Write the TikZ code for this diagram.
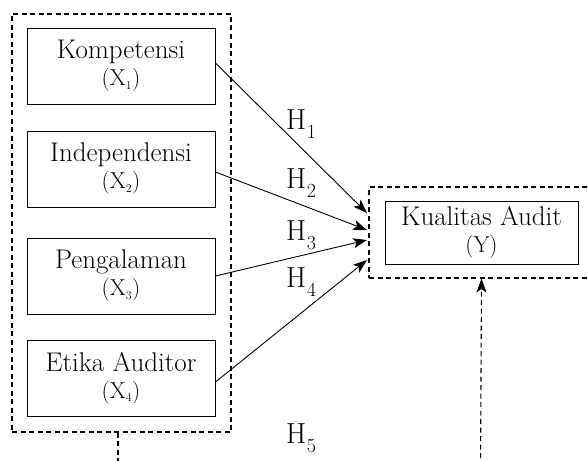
\documentclass[tikz,border=0pt]{standalone}
\usetikzlibrary{arrows.meta,calc}
\begin{document}
\begin{tikzpicture}[x=1pt,y=-1pt,
  varbox/.style={draw,line width=0.9pt,minimum width=188pt,minimum height=76pt,align=center,inner sep=0pt,font=\fontsize{27}{27}\selectfont},
  dashbox/.style={draw,line width=1.1pt,dash pattern=on 5pt off 3.5pt,inner sep=0pt},
  hyparrow/.style={line width=0.9pt,-{Stealth[length=14pt,width=10pt,inset=3.5pt]}},
  dasharrow/.style={line width=1.1pt,dash pattern=on 5pt off 3.5pt},
  hlab/.style={anchor=base west,inner sep=0pt,font=\fontsize{29}{29}\selectfont}
]
\useasboundingbox (0,0) rectangle (588,460);
\newcommand{\twolines}[2]{#1\\{\fontsize{23}{27}\selectfont #2}}
\newcommand{\hsub}[1]{H\kern0.5pt\raisebox{-9pt}{\fontsize{20}{20}\selectfont #1}}
% outer dashed group
\node[dashbox,minimum width=219pt,minimum height=418pt] (grp) at (121.5,223) {};
% variable boxes
\node[varbox] (x1) at (121,66) {\twolines{Kompetensi}{(X$_{\scriptscriptstyle 1}$)}};
\node[varbox] (x2) at (121,169) {\twolines{Independensi}{(X$_{\scriptscriptstyle 2}$)}};
\node[varbox] (x3) at (121,276) {\twolines{Pengalaman}{(X$_{\scriptscriptstyle 3}$)}};
\node[varbox] (x4) at (121,378) {\twolines{Etika Auditor}{(X$_{\scriptscriptstyle 4}$)}};
% Y group
\node[dashbox,minimum width=225pt,minimum height=91pt] (ygrp) at (481.5,232.5) {};
\node[varbox,minimum width=193pt,minimum height=63pt] (y) at (481.5,232.5) {\twolines{Kualitas Audit}{(Y)}};
% arrow end points
\coordinate (t1) at (367,213);
\coordinate (t2) at (367,230);
\coordinate (t3) at (367,240);
\coordinate (t4) at (367,260);
\draw[hyparrow] (x1.east) ++(0,-3) -- (t1);
\draw[hyparrow] (x2.east) ++(0,3) -- (t2);
\draw[hyparrow] (x3.east) -- (t3);
\draw[hyparrow] (x4.east) ++(0,4) -- (t4);
% labels
\node[hlab] (h1) at (286,129) {\hsub{1}};
\node[hlab] (h2) at (286,188) {\hsub{2}};
\node[hlab] (h3) at (286,240) {\hsub{3}};
\node[hlab] (h4) at (286,287) {\hsub{4}};
\node[hlab] (h5) at (286,443) {\hsub{5}};
% H5 dashed path
\coordinate (b1) at (118,475);
\coordinate (b2) at (480.5,475);
\draw[dasharrow] (grp.south -| b1) -- (b1);
\draw[dasharrow,-{Stealth[length=14pt,width=10pt,inset=3.5pt]}] (b2) -- (ygrp.south);
\end{tikzpicture}
\end{document}
